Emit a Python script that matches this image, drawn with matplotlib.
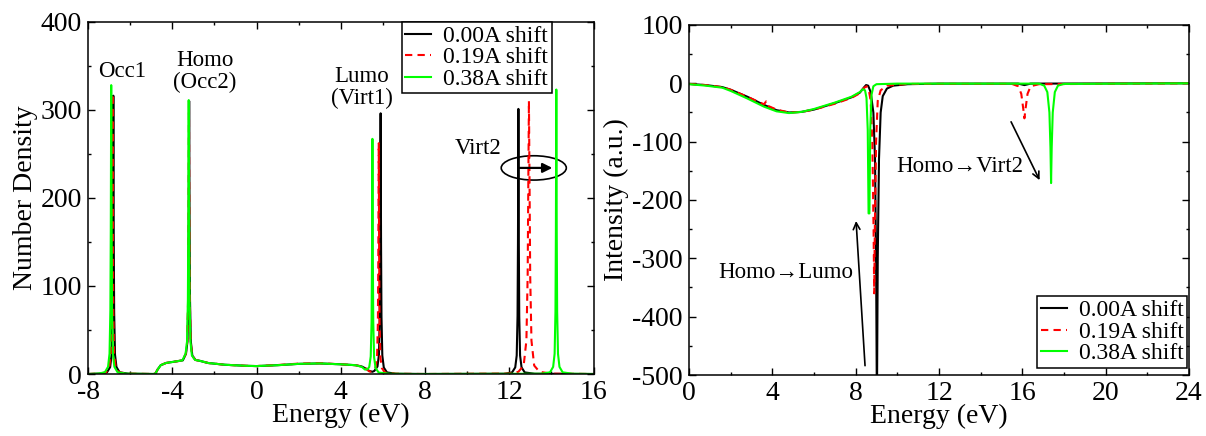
import matplotlib
matplotlib.use("Agg")
import matplotlib.pyplot as plt
from matplotlib.patches import Ellipse
from matplotlib.ticker import MultipleLocator

plt.rcParams['font.family'] = ['Liberation Serif', 'DejaVu Serif']
plt.rcParams['axes.unicode_minus'] = False

# density of states, (energy eV, number density) read per geometry
dos_000 = [
    (-8.0, 0), (-7.4, 0.5), (-7.1, 1.9), (-6.95, 7.9), (-6.88, 22), (-6.84, 70),
    (-6.82, 158), (-6.80, 316), (-6.78, 158), (-6.76, 70), (-6.72, 22), (-6.65, 7.9),
    (-6.50, 1.9), (-6.1, 0.4), (-4.9, 0.0),
    (-4.8, 0.5), (-4.7, 5), (-4.55, 10), (-4.3, 12.5), (-3.9, 14), (-3.5, 15.5),
    (-3.35, 23), (-3.28, 37), (-3.24, 84), (-3.22, 170), (-3.20, 310), (-3.18, 170),
    (-3.16, 84), (-3.12, 37), (-3.05, 21), (-2.9, 16),
    (-2.7, 15), (-2.3, 12.5), (-1.5, 10.5), (-0.5, 9.3), (0.0, 9), (1.0, 10), (2.0, 11.5),
    (3.0, 12), (4.0, 11), (4.7, 10), (5.0, 8.5), (5.2, 6), (5.35, 3.5), (5.5, 2.5),
    (5.59, 3.5), (5.74, 8.5), (5.81, 22), (5.85, 66), (5.87, 148), (5.89, 296),
    (5.91, 148), (5.93, 65), (5.97, 21), (6.04, 7.4), (6.19, 1.8), (6.6, 0.3), (8.0, 0),
    (11.8, 0.3), (12.13, 1.8), (12.28, 7.5), (12.35, 21), (12.39, 66), (12.41, 150),
    (12.43, 301), (12.45, 150), (12.47, 66), (12.51, 21), (12.58, 7.5), (12.73, 1.8),
    (13.2, 0.3), (16.0, 0),
]
dos_019 = [
    (-8.0, 0), (-7.44, 0.5), (-7.14, 1.9), (-6.99, 8), (-6.92, 22), (-6.88, 70),
    (-6.86, 159), (-6.84, 318), (-6.82, 159), (-6.80, 70), (-6.76, 22), (-6.69, 8),
    (-6.54, 1.9), (-6.1, 0.4), (-4.9, 0),
    (-4.8, 0.5), (-4.7, 5), (-4.55, 10), (-4.3, 12.5), (-3.9, 14), (-3.51, 15.5),
    (-3.36, 23), (-3.29, 37), (-3.25, 84), (-3.23, 170), (-3.21, 310), (-3.19, 170),
    (-3.17, 84), (-3.13, 37), (-3.06, 21), (-2.91, 16),
    (-2.7, 15), (-2.3, 12.5), (-1.5, 10.5), (-0.5, 9.3), (0.0, 9), (1.0, 10.2), (2.0, 11.8),
    (3.0, 12.3), (4.0, 11), (4.7, 10), (5.0, 8.5), (5.2, 6), (5.35, 3), (5.45, 2.5),
    (5.50, 3), (5.65, 7.5), (5.72, 19), (5.76, 58), (5.78, 131), (5.80, 262), (5.82, 131),
    (5.84, 58), (5.88, 18), (5.95, 6.6), (6.10, 1.6), (6.6, 0.3), (8.0, 0),
    (12.0, 0.5), (12.43, 2.5), (12.68, 9.6), (12.81, 38), (12.87, 112), (12.90, 214),
    (12.93, 310), (12.96, 214), (12.99, 112), (13.05, 38), (13.18, 9.6), (13.43, 2.5),
    (14.0, 0.4), (16.0, 0),
]
dos_038 = [
    (-8.0, 0), (-7.5, 0.5), (-7.2, 2.0), (-7.05, 8.2), (-6.98, 23), (-6.94, 72),
    (-6.92, 164), (-6.90, 328), (-6.88, 164), (-6.86, 72), (-6.82, 23), (-6.75, 8.2),
    (-6.60, 2.0), (-6.2, 0.4), (-4.9, 0),
    (-4.8, 0.5), (-4.7, 5), (-4.55, 10), (-4.3, 12.5), (-3.9, 14), (-3.52, 15.5),
    (-3.37, 23), (-3.30, 37), (-3.26, 84), (-3.24, 170), (-3.22, 311), (-3.20, 170),
    (-3.18, 84), (-3.14, 37), (-3.07, 21), (-2.92, 16),
    (-2.7, 15), (-2.3, 12.5), (-1.5, 10.5), (-0.5, 9.3), (0.0, 9), (1.0, 10), (2.0, 11.5),
    (3.0, 12), (4.0, 11), (4.7, 10), (5.0, 8), (5.15, 5), (5.27, 5.5),
    (5.35, 8), (5.42, 20), (5.46, 59), (5.48, 134), (5.50, 267), (5.52, 134), (5.54, 59),
    (5.58, 19), (5.65, 6.7), (5.80, 1.6), (6.3, 0.3), (7.5, 0),
    (13.5, 0.3), (13.93, 1.9), (14.08, 8.1), (14.15, 23), (14.19, 71), (14.21, 161),
    (14.23, 323), (14.25, 161), (14.27, 71), (14.31, 23), (14.38, 8.1), (14.53, 1.9),
    (15.0, 0.3), (16.0, 0),
]

# absorption intensity, (energy eV, intensity a.u.)
int_000 = [
    (0, -1), (0.8, -3), (1.6, -6.5), (2.0, -11), (2.8, -23), (3.6, -37), (4.2, -46),
    (4.8, -50), (5.4, -49), (6.0, -45), (7.0, -34), (7.8, -24), (8.2, -16), (8.4, -7),
    (8.5, -3), (8.6, -4), (8.72, -15), (8.85, -50), (8.93, -130), (8.98, -300),
    (9.02, -560), (9.06, -300), (9.12, -130), (9.2, -50), (9.3, -22), (9.5, -9),
    (9.8, -4), (10.5, -1.5), (12, -0.5), (15.8, -0.5), (16.1, -3), (16.4, -0.5), (24, 0),
]
int_019 = [
    (0, -1), (0.8, -3), (1.6, -6.5), (2.0, -11), (2.8, -23), (3.6, -36), (3.7, -31),
    (3.75, -38), (4.2, -45), (4.8, -50), (5.4, -49), (6.0, -45), (7.0, -35), (7.8, -25),
    (8.2, -17), (8.4, -8), (8.52, -5), (8.62, -9), (8.72, -30), (8.80, -100),
    (8.86, -250), (8.89, -360), (8.92, -250), (8.98, -100), (9.06, -30), (9.2, -12),
    (9.5, -4), (10.5, -1), (15.5, -1), (15.8, -5), (15.95, -18), (16.05, -45),
    (16.1, -60), (16.15, -45), (16.25, -18), (16.4, -5), (16.8, -1.5), (24, 0),
]
int_038 = [
    (0, -1.5), (0.8, -4), (1.6, -7.5), (2.0, -13), (2.8, -26), (3.6, -40), (4.2, -48),
    (4.8, -51), (5.4, -49), (6.0, -44), (7.0, -33), (7.8, -23), (8.2, -15), (8.35, -10),
    (8.45, -12), (8.52, -25), (8.58, -80), (8.62, -223), (8.66, -223), (8.70, -80),
    (8.76, -20), (8.85, -5), (9.0, -1.5), (10, -0.5), (16.8, -0.5), (17.05, -4),
    (17.2, -15), (17.3, -50), (17.35, -110), (17.38, -171), (17.41, -110), (17.46, -50),
    (17.56, -15), (17.71, -4), (18.0, -1), (24, 0),
]

labels = ["0.00A shift", "0.19A shift", "0.38A shift"]
colors = ["black", "#ff0000", "#00ff00"]
styles = ["-", (0, (3.5, 2.5)), "-"]


def style_axes(ax, xlim, ylim, xmaj, ymaj):
    ax.set_xlim(*xlim)
    ax.set_ylim(*ylim)
    ax.xaxis.set_major_locator(MultipleLocator(xmaj))
    ax.xaxis.set_minor_locator(MultipleLocator(xmaj / 2))
    ax.yaxis.set_major_locator(MultipleLocator(ymaj))
    ax.yaxis.set_minor_locator(MultipleLocator(ymaj / 2))
    ax.tick_params(which='both', direction='in', top=True, right=True, labelsize=20)
    ax.tick_params(which='major', length=5, width=1.0)
    ax.tick_params(which='minor', length=2.5, width=1.0)
    ax.tick_params(axis='x', pad=4)
    ax.tick_params(axis='y', pad=4.5)
    for s in ax.spines.values():
        s.set_linewidth(1.1)
    ax.set_xlabel("Energy (eV)", fontsize=20, labelpad=-1)


def legend(ax, **kw):
    ax.legend(fontsize=17, frameon=True, fancybox=False, framealpha=1,
              edgecolor='black', handlelength=1.1, handletextpad=0.5,
              labelspacing=0.0, borderpad=0.15, borderaxespad=0, **kw
              ).get_frame().set_linewidth(1.1)


fig = plt.figure(figsize=(12.06, 4.36), dpi=100)
ax1 = fig.add_axes([0.0730, 0.1422, 0.4192, 0.8080])
ax2 = fig.add_axes([0.5713, 0.1399, 0.4146, 0.8028])

for data, lab, c, ls in zip([dos_000, dos_019, dos_038], labels, colors, styles):
    xs, ys = zip(*data)
    ax1.plot(xs, ys, color=c, linestyle=ls, lw=1.5, label=lab)
style_axes(ax1, (-8, 16), (0, 400), 4, 100)
ax1.set_ylabel("Number Density", fontsize=20, labelpad=2)
legend(ax1, loc='upper left', bbox_to_anchor=(0.6206, 1.0))

ax1.text(-6.36, 343, "Occ1", fontsize=16.5, ha='center', va='center')
ax1.text(-2.45, 343, "Homo\n(Occ2)", fontsize=16.5, ha='center', va='center',
         linespacing=1.05)
ax1.text(5.0, 325, "Lumo\n(Virt1)", fontsize=16.5, ha='center', va='center',
         linespacing=1.05)
ax1.text(10.54, 256, "Virt2", fontsize=16.5, ha='center', va='center')
ax1.add_patch(Ellipse((13.16, 234), 3.09, 27.6, fill=False, ec='black', lw=1.2))
ax1.annotate("", xy=(14.04, 234), xytext=(12.46, 234),
             arrowprops=dict(arrowstyle='-|>', color='black', lw=1.6,
                             mutation_scale=14, shrinkA=0, shrinkB=0))

for data, lab, c, ls in zip([int_000, int_019, int_038], labels, colors, styles):
    xs, ys = zip(*data)
    ax2.plot(xs, ys, color=c, linestyle=ls, lw=1.5, label=lab)
style_axes(ax2, (0, 24), (-500, 100), 4, 100)
ax2.set_ylabel("Intensity (a.u.)", fontsize=20, labelpad=2)
legend(ax2, loc='lower right', bbox_to_anchor=(0.996, 0.02))

ax2.text(7.9, -325, "Homo\u2192Lumo", fontsize=16.5, ha='right', va='center')
ax2.annotate("", xy=(8.02, -236), xytext=(8.45, -484),
             arrowprops=dict(arrowstyle='->', color='black', lw=1.2,
                             mutation_scale=12, shrinkA=0, shrinkB=0))
ax2.text(13.0, -143, "Homo\u2192Virt2", fontsize=16.5, ha='center', va='center')
ax2.annotate("", xy=(16.83, -166), xytext=(15.46, -66),
             arrowprops=dict(arrowstyle='->', color='black', lw=1.2,
                             mutation_scale=12, shrinkA=0, shrinkB=0))

fig.savefig("out.png", dpi=100)
